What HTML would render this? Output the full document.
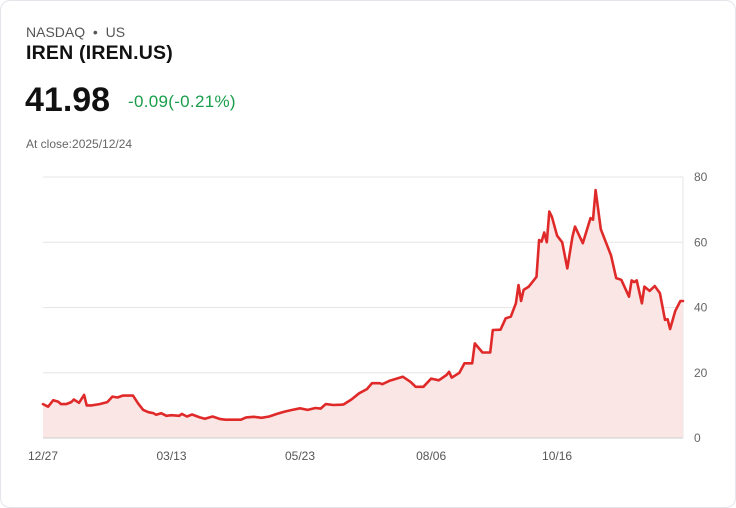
<!DOCTYPE html>
<html><head><meta charset="utf-8"><style>
body{margin:0;background:#fff;font-family:"Liberation Sans",sans-serif;}
.card{position:absolute;left:0;top:0;width:734px;height:506px;border:1px solid #e3e5ea;border-radius:10px;background:#fff;}
.t{position:absolute;white-space:nowrap;}
</style></head><body>
<div class="card">
<div class="t" style="left:25px;top:23px;font-size:14px;color:#555;">NASDAQ &nbsp;•&nbsp; US</div>
<div class="t" style="left:25px;top:41px;font-size:19.5px;font-weight:bold;color:#111;letter-spacing:0.2px;">IREN (IREN.US)</div>
<div class="t" style="left:24px;top:80px;font-size:34px;font-weight:bold;color:#111;">41.98</div>
<div class="t" style="left:127px;top:91px;font-size:17px;color:#1a9e4b;letter-spacing:0.3px;">-0.09(-0.21%)</div>
<div class="t" style="left:25px;top:136px;font-size:12px;color:#666;">At close:2025/12/24</div>
<svg id="chart" width="736" height="508" style="position:absolute;left:-1px;top:-1px;"></svg>
</div>
<script>
const days=[0,2,4,6,7,9,11,12,14,16,17,19,22,25,27,29,31,35,37,39,41,43,44,46,48,50,53,54,56,58,61,63,66,69,71,74,77,79,82,85,88,91,94,97,100,103,106,108,110,113,116,117,120,123,126,128,131,132,135,140,143,145,148,151,154,157,158,159,162,164,167,168,171,174,175,178,180,182,184,185,186,187,189,192,193,194,195,196,197,198,200,202,204,206,207,210,213,214,215,217,219,221,223,225,228,229,230,231,233,234,236,238,240,242,243,244,246,248,249];
const prices=[10.4,9.6,11.6,11.1,10.4,10.4,11,11.8,10.8,13.2,10,10,10.4,11,12.7,12.4,13,13,10.6,8.6,7.9,7.6,7.1,7.6,6.8,7,6.8,7.4,6.6,7.2,6.3,5.9,6.6,5.8,5.6,5.6,5.6,6.3,6.5,6.2,6.6,7.4,8.1,8.6,9.1,8.6,9.2,9,10.4,10.1,10.2,10.3,11.8,13.7,15,16.8,16.8,16.5,17.6,18.8,17.2,15.7,15.7,18.2,17.7,19.3,20.3,18.5,20,22.9,22.9,29,26.2,26.2,33.1,33.2,36.7,37.2,41.3,46.9,42,45.4,46.4,49.4,60.7,60.2,63,60,69.4,67.8,62,60,52,61.8,64.8,59.7,67.4,66.9,76,64,60,56,49,48.5,43.3,48.3,47.8,48.3,41.3,46.4,45.1,46.6,44.4,36.2,36.4,33.4,39,42,42];
const tickVals=[0,20,40,60,80];
const xTickDays=[0,50,100,151,200];
const xTickLabels=["12/27","03/13","05/23","08/06","10/16"];
const X0=43,X1=683,Y0=438,Y1=177,DMAX=249,VMAX=80;
const xs=d=>X0+(d/DMAX)*(X1-X0);
const ys=v=>Y0-(v/VMAX)*(Y0-Y1);
const svg=document.getElementById('chart');
const NS='http://www.w3.org/2000/svg';
function mk(tag,attrs){const e=document.createElementNS(NS,tag);for(const k in attrs)e.setAttribute(k,attrs[k]);svg.appendChild(e);return e;}
tickVals.forEach((v,i)=>{
 const l=mk('line',{x1:X0,x2:X1,y1:ys(v),y2:ys(v),stroke:v===0?'#ccc':'#e6e6e6','stroke-width':1});
 
 
 const t=mk('text',{x:694,y:ys(v)+4,'font-size':12,fill:'#666','font-family':'Liberation Sans, sans-serif'});
 t.textContent=v;
 
 
});
const ax=mk('line',{x1:X1,x2:X1,y1:Y1,y2:Y0,stroke:'#e6e6e6','stroke-width':1});


xTickDays.forEach((d,i)=>{
 const t=mk('text',{x:xs(d),y:460,'font-size':12,fill:'#555','text-anchor':'middle','font-family':'Liberation Sans, sans-serif'});
 t.textContent=xTickLabels[i];
 
 
});
let p='';days.forEach((d,i)=>{p+=(i?'L':'M')+xs(d).toFixed(1)+','+ys(prices[i]).toFixed(1);});
const area=mk('path',{d:p+'L'+xs(days[days.length-1])+','+Y0+'L'+xs(days[0])+','+Y0+'Z',fill:'#fbe6e6'});


const base=mk('line',{x1:X0,x2:X1,y1:Y0,y2:Y0,stroke:'#cfcfcf','stroke-width':1});


const line=mk('path',{d:p,fill:'none',stroke:'#e02a2a','stroke-width':2.6,'stroke-linejoin':'round','stroke-linecap':'round'});


</script>
</body></html>
